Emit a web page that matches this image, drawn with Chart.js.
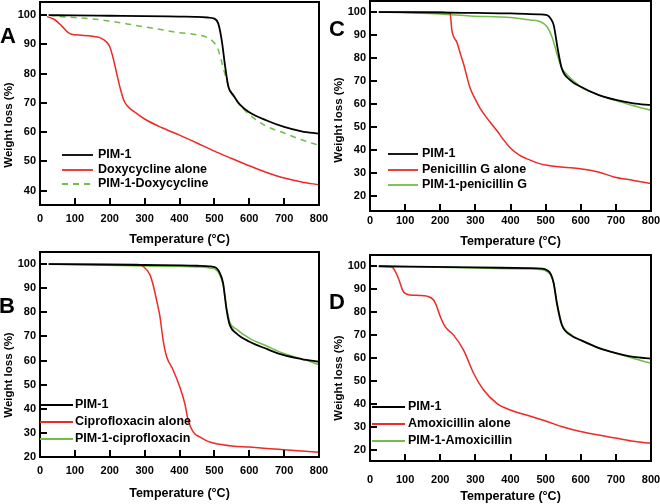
<!DOCTYPE html>
<html>
<head>
<meta charset="utf-8">
<script src="https://cdn.jsdelivr.net/npm/chart.js@4.4.1/dist/chart.umd.min.js"></script>
<style>
  body { margin: 0; background: #fff; }
  #wrap { position: relative; width: 660px; height: 504px; }
  canvas { position: absolute; }
</style>
</head>
<body>
<div id="wrap">
  <canvas id="pA" width="330" height="250" style="left:0;top:0"></canvas>
  <canvas id="pC" width="330" height="250" style="left:330px;top:0"></canvas>
  <canvas id="pB" width="330" height="254" style="left:0;top:250px"></canvas>
  <canvas id="pD" width="330" height="254" style="left:330px;top:250px"></canvas>
</div>
<script>
// temperature ticks shared by all panels
var xTicks = [0, 100, 200, 300, 400, 500, 600, 700, 800]
var yTicksA = [40, 50, 60, 70, 80, 90, 100]
var yTicks20 = [20, 30, 40, 50, 60, 70, 80, 90, 100]

// A - doxycycline
var pimA_T = [25, 100, 200, 300, 400, 450, 480, 500, 511, 521, 531, 540, 554, 574, 600, 650, 700, 750, 800]
var pimA_W = [100, 99.9, 99.8, 99.7, 99.5, 99.4, 99.2, 98.8, 97.2, 91.5, 82.4, 75.6, 72.7, 69.3, 66.8, 64, 61.8, 60.3, 59.5]
var doxyT = [20, 40, 60, 80, 90, 100, 150, 170, 190, 200, 210, 220, 230, 240, 250, 270, 300, 350, 400, 450, 500, 550, 600, 650, 700, 750, 800]
var doxyW = [99.5, 98.6, 96.6, 94.1, 93.5, 93.3, 92.8, 92.4, 90.9, 89.2, 85.2, 80, 75, 71, 69, 67, 64.5, 61.5, 59, 56.3, 53.5, 51, 48.5, 46.2, 44.3, 43, 42]
var pimDoxyT = [25, 50, 100, 150, 200, 250, 300, 350, 400, 450, 480, 500, 510, 520, 530, 540, 550, 575, 600, 650, 700, 750, 800]
var pimDoxyW = [100, 99.6, 99.2, 98.7, 98, 97, 96, 95, 94, 93.3, 92.3, 90.5, 88.5, 84.5, 80, 76, 73, 69, 66, 62, 59.7, 57.4, 55.5]

// C - penicillin G
var pimC_T = [25, 200, 300, 400, 480, 504, 515, 523, 535, 546, 570, 600, 650, 703, 750, 800]
var pimC_W = [100, 99.8, 99.6, 99.4, 99, 98.7, 97, 94.3, 83.5, 75.5, 70.4, 67.5, 64, 61.7, 60.3, 59.5]
var penT = [25, 200, 222, 228, 233, 238, 247, 257, 266, 285, 300, 314, 340, 361, 380, 399, 425, 456, 480, 504, 550, 599, 650, 694, 750, 800]
var penW = [100, 99.9, 99.7, 99.4, 92.2, 89.3, 87, 82, 77.6, 67, 62, 58, 52.5, 48.5, 44.5, 41, 37.8, 35.6, 34.2, 33.4, 32.5, 31.9, 30.5, 28.3, 26.8, 25.4]
var pimPenT = [25, 100, 200, 285, 400, 456, 485, 504, 518, 532, 546, 560, 580, 600, 650, 700, 750, 800]
var pimPenW = [100, 99.7, 99.2, 98.3, 97.6, 96.5, 95.8, 93.6, 89.3, 82, 75.5, 73, 70, 67.5, 64, 61.5, 59.3, 57.3]

// B - ciprofloxacin
var pimB_T = [25, 300, 450, 490, 506, 515, 525, 535, 544, 563, 601, 650, 697, 750, 800]
var pimB_W = [100, 99.6, 99.3, 99, 98.3, 96.5, 92.1, 81, 74.8, 71.3, 67.8, 64.8, 62.3, 60.6, 59.5]
var ciproT = [25, 280, 296, 315, 325, 334, 344, 353, 363, 382, 401, 415, 425, 439, 458, 480, 506, 550, 601, 650, 700, 750, 800]
var ciproW = [100, 99.8, 99, 95.6, 91, 85.2, 78.2, 68.5, 61.7, 56, 49, 42.3, 35.2, 30.4, 28.3, 26.6, 25.5, 24.6, 24.1, 23.5, 23, 22.5, 22]
var pimCiproT = [25, 300, 450, 490, 506, 515, 525, 535, 544, 563, 601, 650, 697, 750, 800]
var pimCiproW = [100, 99.2, 98.8, 98.3, 97.5, 95.5, 91.5, 82, 76, 73, 69.2, 66, 63, 60.7, 58.3]

// D - amoxicillin
var pimD_T = [25, 300, 450, 490, 504, 515, 523, 532, 546, 570, 599, 650, 703, 750, 800]
var pimD_W = [100, 99.5, 99.2, 99, 98.3, 96.5, 92.6, 83.9, 74.5, 70.1, 67.9, 64.5, 62.1, 60.5, 59.8]
var amoxT = [25, 60, 67, 76, 86, 93, 100, 114, 140, 162, 181, 190, 200, 214, 238, 266, 295, 323, 361, 399, 450, 504, 550, 599, 650, 703, 750, 800]
var amoxW = [100, 99.8, 99, 96.5, 92.6, 89.5, 88.2, 87.5, 87.3, 87, 85.3, 82.5, 78.1, 73.7, 70, 63.6, 53.4, 46.2, 40.3, 37.4, 35, 32.4, 30, 28, 26.5, 25.1, 23.8, 22.9]
var pimAmoxT = [25, 300, 450, 490, 504, 515, 523, 532, 546, 570, 599, 650, 703, 750, 800]
var pimAmoxW = [100, 99.2, 98.8, 98.5, 97.7, 96, 92.6, 84.5, 75, 70.5, 67.9, 64.5, 62, 59.8, 57.8]

var BLACK = '#000000'
var RED = '#ec2a26'
var GREEN = '#70bd4a'
var FONT = '"Liberation Sans", Arial, sans-serif'

function pts(t, w) {
    var out = []
    for (var i = 0; i < t.length; i++) out.push({x: t[i], y: w[i]})
    return out
}

function ds(label, t, w, color, dash) {
    return {
        label: label,
        data: pts(t, w),
        borderColor: color,
        borderWidth: color == BLACK ? 1.8 : 1.5,
        borderDash: dash || [],
        pointRadius: 0,
        fill: false,
        cubicInterpolationMode: 'monotone'
    }
}

// axis frame, inner tick marks, y title, panel letter and legend
var decoPlugin = {
    id: 'deco',
    afterDraw: function(chart, args, o) {
        var ctx = chart.ctx, a = chart.chartArea
        var xs = chart.scales.x, ys = chart.scales.y
        ctx.save()
        ctx.strokeStyle = '#000'
        ctx.lineWidth = 2
        ctx.strokeRect(a.left, a.top, a.right - a.left, a.bottom - a.top)
        ctx.beginPath()
        xs.ticks.forEach(function(t) {
            var px = Math.round(xs.getPixelForValue(t.value))
            ctx.moveTo(px, a.bottom); ctx.lineTo(px, a.bottom - 7)
        })
        ys.ticks.forEach(function(t) {
            var py = Math.round(ys.getPixelForValue(t.value))
            ctx.moveTo(a.left, py); ctx.lineTo(a.left + 7, py)
        })
        ctx.stroke()

        ctx.fillStyle = '#000'
        ctx.textBaseline = 'middle'
        // panel letter
        ctx.textAlign = 'center'
        ctx.font = 'bold 22px ' + FONT
        ctx.fillText(o.letter, o.letterX, o.letterY)

        // legend
        ctx.textAlign = 'left'
        ctx.font = 'bold 12.5px ' + FONT
        chart.data.datasets.forEach(function(d, i) {
            var y = o.legY[i]
            ctx.save()
            ctx.strokeStyle = d.borderColor
            ctx.lineWidth = 1.8
            ctx.setLineDash(d.borderDash)
            ctx.beginPath()
            ctx.moveTo(o.legX1, y); ctx.lineTo(o.legX2, y)
            ctx.stroke()
            ctx.restore()
            ctx.fillText(d.label, o.legTX, y)
        })

        // y axis title
        ctx.translate(o.yTitleX, o.yTitleY)
        ctx.rotate(-Math.PI / 2)
        ctx.textAlign = 'center'
        ctx.font = 'bold 11.5px ' + FONT
        ctx.fillText('Weight loss (%)', 0, 0)
        ctx.restore()
    }
}

function makePanel(id, p) {
    var ctx = document.getElementById(id).getContext('2d')
    return new Chart(ctx, {
        type: 'line',
        data: {datasets: p.datasets},
        plugins: [decoPlugin],
        options: {
            responsive: false,
            animation: false,
            layout: {padding: {top: p.padTop, right: p.padRight, left: 0, bottom: 0}},
            scales: {
                x: {
                    type: 'linear',
                    min: 0,
                    max: 800,
                    grid: {display: false, drawTicks: false},
                    border: {display: false},
                    afterBuildTicks: function(s) { s.ticks = xTicks.map(function(v) { return {value: v} }) },
                    afterFit: function(s) {
                        s.height = p.xHeight
                        s.paddingLeft = 0
                        s.paddingRight = 0
                    },
                    ticks: {padding: p.xLabelPad, color: '#000', maxRotation: 0, font: {family: FONT, size: 11, weight: 'bold'}},
                    title: {
                        display: true,
                        text: 'Temperature (°C)',
                        color: '#000',
                        padding: {top: 0, bottom: p.xTitlePad},
                        font: {family: FONT, size: 12.5, weight: 'bold'}
                    }
                },
                y: {
                    min: p.yMin,
                    max: p.yMax,
                    grid: {display: false, drawTicks: false},
                    border: {display: false},
                    afterBuildTicks: function(s) { s.ticks = p.yTicks.map(function(v) { return {value: v} }) },
                    afterFit: function(s) {
                        s.width = 40
                        s.paddingTop = 0
                        s.paddingBottom = 0
                    },
                    ticks: {padding: 4, color: '#000', font: {family: FONT, size: 11, weight: 'bold'}}
                }
            },
            plugins: {
                legend: {display: false},
                tooltip: {enabled: false},
                deco: p.deco
            }
        }
    })
}

makePanel('pA', {
    yMin: 35.1, yMax: 104.5, yTicks: yTicksA,
    padTop: 2, padRight: 11, xHeight: 45, xLabelPad: 7, xTitlePad: 3,
    datasets: [
        ds('PIM-1', pimA_T, pimA_W, BLACK),
        ds('Doxycycline alone', doxyT, doxyW, RED),
        ds('PIM-1-Doxycycline', pimDoxyT, pimDoxyW, GREEN, [6, 5])
    ],
    deco: {letter: 'A', letterX: 8, letterY: 37, legX1: 62, legX2: 93, legTX: 98, legY: [155, 170, 184], yTitleX: 9, yTitleY: 125}
})

makePanel('pC', {
    yMin: 13.5, yMax: 104.8, yTicks: yTicks20,
    padTop: 1, padRight: 9, xHeight: 39, xLabelPad: 3.5, xTitlePad: 1,
    datasets: [
        ds('PIM-1', pimC_T, pimC_W, BLACK),
        ds('Penicillin G alone', penT, penW, RED),
        ds('PIM-1-penicillin G', pimPenT, pimPenW, GREEN)
    ],
    deco: {letter: 'C', letterX: 7, letterY: 30, legX1: 58, legX2: 88, legTX: 92, legY: [154, 170, 185], yTitleX: 9, yTitleY: 120}
})

makePanel('pB', {
    yMin: 20, yMax: 105, yTicks: yTicks20,
    padTop: 2, padRight: 11, xHeight: 47, xLabelPad: 7.4, xTitlePad: 2.8,
    datasets: [
        ds('PIM-1', pimB_T, pimB_W, BLACK),
        ds('Ciprofloxacin alone', ciproT, ciproW, RED),
        ds('PIM-1-ciprofloxacin', pimCiproT, pimCiproW, GREEN)
    ],
    deco: {letter: 'B', letterX: 7, letterY: 57, legX1: 40, legX2: 73, legTX: 75, legY: [155, 172, 189], yTitleX: 9, yTitleY: 125}
})

makePanel('pD', {
    yMin: 15.2, yMax: 104.9, yTicks: yTicks20,
    padTop: 5, padRight: 9, xHeight: 43, xLabelPad: 12.4, xTitlePad: 0,
    datasets: [
        ds('PIM-1', pimD_T, pimD_W, BLACK),
        ds('Amoxicillin alone', amoxT, amoxW, RED),
        ds('PIM-1-Amoxicillin', pimAmoxT, pimAmoxW, GREEN)
    ],
    deco: {letter: 'D', letterX: 7, letterY: 53, legX1: 42, legX2: 75, legTX: 78, legY: [157, 174, 191], yTitleX: 9, yTitleY: 128}
})
</script>
</body>
</html>
